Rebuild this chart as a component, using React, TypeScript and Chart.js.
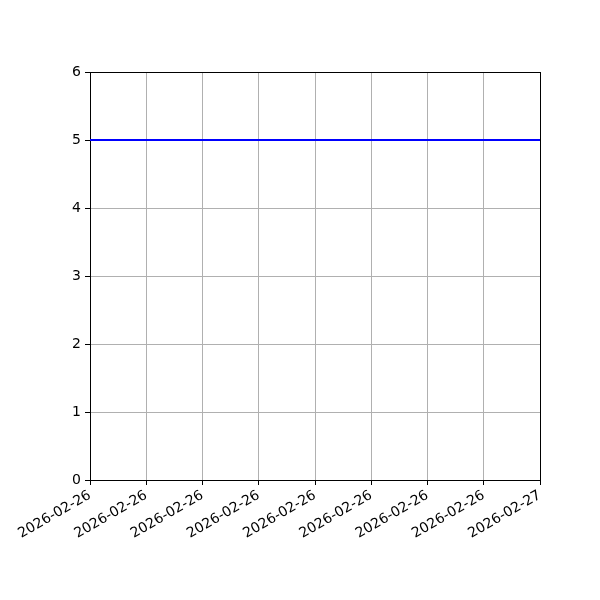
import { useEffect, useRef } from 'react';
import { Chart, registerables } from 'chart.js';

Chart.register(...registerables);

// hours since 2026-02-26 00:00
const hours = [0, 24];
const values = [5, 5];
const tickHours = [0, 3, 6, 9, 12, 15, 18, 21, 24];
const tickLabels = [
  '2026-02-26', '2026-02-26', '2026-02-26', '2026-02-26', '2026-02-26',
  '2026-02-26', '2026-02-26', '2026-02-26', '2026-02-27',
];

const font = { family: 'DejaVu Sans', size: 14 };

export default function App() {
  const canvasRef = useRef<HTMLCanvasElement | null>(null);
  const chartRef = useRef<Chart | null>(null);

  useEffect(() => {
    document.body.style.margin = '0';
    if (!canvasRef.current) return;
    if (chartRef.current) chartRef.current.destroy();

    chartRef.current = new Chart(canvasRef.current, {
      type: 'line',
      data: {
        datasets: [{
          data: hours.map((h, i) => ({ x: h, y: values[i] })),
          borderColor: '#0000ff',
          borderWidth: 2,
          pointRadius: 0,
          fill: false,
        }],
      },
      options: {
        animation: false,
        responsive: false,
        devicePixelRatio: 1,
        layout: { padding: { top: 72, right: 60, left: 0, bottom: 0 } },
        plugins: { legend: { display: false }, tooltip: { enabled: false } },
        scales: {
          x: {
            type: 'linear',
            min: 0,
            max: 24,
            afterBuildTicks: (scale: any) => {
              scale.ticks = tickHours.map(v => ({ value: v }));
            },
            afterFit: (scale: any) => { scale.height = 120; },
            ticks: {
              color: '#000',
              font,
              maxRotation: 30,
              minRotation: 30,
              padding: 2,
              autoSkip: false,
              callback: (v: any) => tickLabels[tickHours.indexOf(Number(v))] ?? '',
            },
            grid: {
              color: (ctx: any) => (ctx.tick && ctx.tick.value === 24 ? '#000' : '#b0b0b0'),
              tickColor: '#000',
              tickLength: 5,
              lineWidth: 1,
            },
            border: { color: '#000', width: 1 },
          },
          y: {
            min: 0,
            max: 6,
            afterFit: (scale: any) => { scale.width = 90; },
            ticks: { color: '#000', font, stepSize: 1, padding: 4 },
            grid: {
              color: (ctx: any) => (ctx.tick && ctx.tick.value === 6 ? '#000' : '#b0b0b0'),
              tickColor: '#000',
              tickLength: 5,
              lineWidth: 1,
            },
            border: { color: '#000', width: 1 },
          },
        },
      },
    });

    return () => {
      if (chartRef.current) {
        chartRef.current.destroy();
        chartRef.current = null;
      }
    };
  }, []);

  return (
    <div style={{ width: 600, height: 600, background: '#fff' }}>
      <canvas ref={canvasRef} width={600} height={600} />
    </div>
  );
}
